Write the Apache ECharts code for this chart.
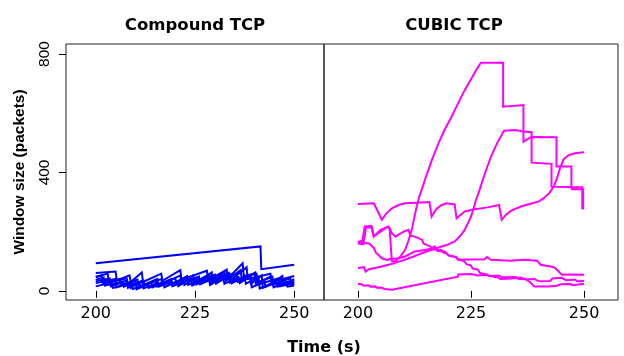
<!DOCTYPE html>
<html>
<head>
<meta charset="utf-8">
<script src="https://cdn.jsdelivr.net/npm/echarts@6/dist/echarts.min.js"></script>
<style>
  html, body { margin: 0; padding: 0; background: #fff; }
  #chart { width: 624px; height: 356px; }
</style>
</head>
<body>
<div id="chart"></div>
<script>
// Axis ticks shared by both panels
const timeTicks = [200, 225, 250];
const windowTicks = [0, 400, 800];
const timeRange = [192.5, 257.5];
const windowRange = [-31, 834];

// Compound TCP congestion windows: [time (s), window (packets)]
const compound1 = [[200,93],[241.5,150],[241.7,73],[250,88]];
const compound2 = [[200,48],[203,58],[203.3,28],[207.8,42],[208.1,18],[212,34],[212.3,20],[216.5,40],[216.8,22],[221.3,52],[221.6,28],[225.5,46],[225.8,26],[229.2,62],[229.5,32],[233.5,58],[233.8,34],[238,80],[238.3,40],[244,58],[244.3,30],[250,50]];
const compound3 = [[200,26],[204.9,40],[205.2,12],[208.5,28],[208.8,10],[211.6,34],[212,8],[215.5,26],[215.8,14],[219,30],[219.3,16],[225,44],[225.4,22],[228.5,38],[228.8,20],[232,52],[232.4,24],[236,46],[236.3,26],[240.2,62],[240.5,20],[246.5,44],[246.8,20],[250,30]];
const compound4 = [[200,37],[202,45],[202.3,18],[207.8,34],[208.1,10],[211,28],[211.3,14],[215,36],[215.3,15],[219,40],[219.3,22],[223,50],[223.3,20],[230,55],[230.4,28],[235.5,58],[235.8,30],[238.8,44],[239.1,24],[241.8,52],[242.1,10],[245.5,28],[245.8,14],[249.8,38],[250,38]];
const compound5 = [[200,15],[204,28],[204.3,10],[209,24],[209.3,6],[213,22],[213.3,10],[217,30],[217.3,12],[220.5,32],[220.8,16],[224,42],[224.3,18],[229,48],[229.3,24],[233.5,60],[233.8,28],[239,55],[239.3,12],[242.5,30],[242.8,14],[246,40],[246.3,15],[250,25]];
const compound6 = [[200,60],[205,65],[205.3,35],[208.5,52],[208.8,30],[211.6,62],[211.9,30],[216.5,58],[216.8,34],[221.3,70],[221.6,38],[228,68],[228.3,35],[233,72],[233.3,42],[237,93],[237.3,50],[240.5,58],[240.8,28],[244,48],[244.3,24],[247,50],[247.3,26],[250,36]];
const compound7 = [[200,32],[203.5,42],[203.8,15],[206.8,30],[207.1,14],[210,35],[210.3,5],[214,28],[214.3,12],[218,34],[218.3,20],[222,40],[222.3,20],[226,48],[226.3,22],[230,44],[230.3,24],[234,56],[234.3,26],[237.5,48],[237.8,24],[241,46],[241.3,8],[244.5,26],[244.8,12],[248,30],[248.3,14],[250,18]];
const compound8 = [[200,45],[201.5,52],[201.8,25],[206,40],[206.3,20],[210.5,38],[210.8,12],[215.5,40],[215.8,18],[220,44],[220.3,26],[224.5,52],[224.8,28],[228.5,56],[228.8,30],[232.5,62],[232.8,34],[236.5,70],[236.8,36],[240,60],[240.3,24],[244.5,48],[244.8,22],[249,42],[249.3,24],[250,25]];

// CUBIC TCP congestion windows: [time (s), window (packets)]
const cubic1 = [[200,293],[203.5,296],[203.9,290],[205.3,240],[206.3,262],[207.5,279],[209,290],[210.4,296],[213,298],[215.8,300],[216.3,251],[217.3,276],[218.5,290],[219.6,296],[221.4,292],[221.8,245],[222.8,258],[223.6,268],[225.8,276],[228.7,282],[231.2,290],[231.8,240],[232.8,258],[233.8,270],[236,285],[238.2,294],[240,302],[241.1,313],[242.3,330],[243.3,352],[244,380],[244.8,420],[245.5,445],[246.5,458],[248,465],[250,468]];
const cubic2 = [[200,165],[201,170],[201.5,218],[203,220],[203.5,185],[205,200],[206.5,216],[207,212],[207.5,100],[208.3,100],[209.5,118],[210.4,138],[211.2,170],[211.9,206],[212.5,250],[213,285],[213.6,320],[214.1,341],[214.8,375],[216.3,440],[217.8,498],[219.2,545],[220.7,588],[222.2,635],[223.6,678],[225,715],[226.3,750],[227.2,771],[232.1,771],[232.1,622],[232.4,628],[236.6,628],[236.6,504],[238.3,520],[243.9,519],[243.9,420],[247.2,420],[247.2,350],[249.6,350],[249.6,280],[250,280]];
const cubic3 = [[200,77],[201.3,80],[201.7,65],[202.4,73],[204.5,80],[206.8,88],[208.5,96],[210.4,105],[212.2,115],[214.1,127],[216.3,139],[218.5,150],[220,157],[221.4,167],[222.6,185],[223.6,206],[224.3,228],[225,251],[225.6,280],[226.1,307],[226.9,341],[227.6,375],[228.5,415],[229.4,453],[230.8,500],[232.3,541],[234.8,543],[236.6,538],[238.4,536],[238.4,433],[242.8,429],[242.8,352],[247.3,350],[247.3,343],[249.8,343],[249.8,278],[250,278]];
const cubic4 = [[200,163],[202.5,160],[203.5,145],[204,128],[204.5,122],[205.3,110],[206.4,104],[207.5,108],[209,110],[210.4,116],[211.5,125],[212.6,133],[214.8,138],[216,142],[217,150],[217.5,135],[219.2,133],[219.8,122],[220.7,116],[221.8,114],[222.1,105],[225,106],[228,107],[228.5,114],[229.4,105],[233.8,102],[236.7,105],[239.6,102],[240.4,88],[242,84],[243.3,80],[244,71],[245.1,54],[247,55],[250,54]];
const cubic5 = [[200,160],[201.2,158],[201.8,215],[203,214],[203.5,183],[205,206],[206.8,217],[207.5,195],[208.3,183],[209,190],[210.1,200],[211.2,206],[211.6,186],[212.3,184],[213.4,178],[214.2,172],[214.5,160],[215.2,155],[216,150],[216.4,140],[218.5,138],[218.8,130],[219.6,127],[220.2,118],[221.4,116],[222,108],[223.6,99],[224,90],[225,85],[225.4,75],[226.5,72],[227,60],[228.5,55],[229,50],[230.9,46],[231.5,40],[234,42],[236,45],[237,38],[239,40],[240,32],[242.5,33],[243,42],[245,44],[246,36],[248,38],[248.5,32],[250,33]];
const cubic6 = [[200,24],[200.8,22],[201.3,17],[202.3,19],[202.8,14],[203.8,15],[204.3,10],[205.3,11],[205.8,6],[207.5,4],[222.1,48],[222.2,55],[225,57],[226.5,52],[228,54],[229.5,50],[231,52],[232,46],[235,47],[235.5,40],[237,41],[238,30],[239,15],[242,15],[244,17],[244.7,22],[247,23],[247.5,19],[250,24]];

const compoundFlows = [compound1, compound2, compound3, compound4, compound5, compound6, compound7, compound8];
const cubicFlows = [cubic1, cubic2, cubic3, cubic4, cubic5, cubic6];

const BLUE = '#0000ff';
const MAGENTA = '#ff00ff';
const wideFont = 'DejaVu Sans';
const narrowFont = 'Liberation Sans';

function flowSeries(data, idx, color) {
  return {
    type: 'line',
    xAxisIndex: idx,
    yAxisIndex: idx,
    data: data,
    symbol: 'none',
    silent: true,
    animation: false,
    lineStyle: { color: color, width: 2, join: 'miter' }
  };
}

function timeAxis(gridIndex) {
  return {
    type: 'value', gridIndex: gridIndex,
    min: timeRange[0], max: timeRange[1],
    axisLine: { show: false },
    axisTick: { show: true, length: 7, customValues: timeTicks, lineStyle: { color: '#000', width: 1 } },
    axisLabel: { show: true, customValues: timeTicks, margin: 6, color: '#000', fontSize: 16, fontFamily: wideFont },
    splitLine: { show: false }
  };
}

const textStyle = (text, size, family, weight) => ({
  text: text, align: 'center', verticalAlign: 'middle',
  fontSize: size, fontWeight: weight, fontFamily: family, fill: '#000'
});

const titles = [
  { type: 'text', x: 195, y: 26, silent: true, style: textStyle('Compound TCP', 16.5, wideFont, 'bold') },
  { type: 'text', x: 454, y: 26, silent: true, style: textStyle('CUBIC TCP', 16.5, wideFont, 'bold') },
  { type: 'text', x: 324, y: 348, silent: true, style: textStyle('Time (s)', 16, wideFont, 'bold') },
  { type: 'text', x: 19.5, y: 172, rotation: Math.PI / 2, silent: true, style: textStyle('Window size (packets)', 15.5, narrowFont, 'bold') }
];

const chart = echarts.init(document.getElementById('chart'), null, { renderer: 'canvas' });
chart.setOption({
  backgroundColor: '#fff',
  animation: false,
  grid: [
    { left: 66, top: 44, width: 258, height: 256, show: true, borderColor: '#222', borderWidth: 1, backgroundColor: 'transparent' },
    { left: 324, top: 44, width: 294, height: 256, show: true, borderColor: '#222', borderWidth: 1, backgroundColor: 'transparent' }
  ],
  xAxis: [timeAxis(0), timeAxis(1)],
  yAxis: [
    {
      type: 'value', gridIndex: 0,
      min: windowRange[0], max: windowRange[1],
      axisLine: { show: false },
      axisTick: { show: true, length: 7, customValues: windowTicks, lineStyle: { color: '#000', width: 1 } },
      axisLabel: { show: false },
      splitLine: { show: false }
    },
    {
      type: 'value', gridIndex: 1,
      min: windowRange[0], max: windowRange[1],
      axisLine: { show: false }, axisTick: { show: false }, axisLabel: { show: false }, splitLine: { show: false }
    }
  ],
  series: [
    ...compoundFlows.map(d => flowSeries(d, 0, BLUE)),
    ...cubicFlows.map(d => flowSeries(d, 1, MAGENTA))
  ],
  graphic: titles
});

// Vertical tick labels on the window axis, placed at the axis' own tick positions
const windowLabels = windowTicks.map(v => {
  const p = chart.convertToPixel({ gridIndex: 0 }, [timeRange[0], v]);
  return { type: 'text', x: p[0] - 21, y: p[1], rotation: Math.PI / 2, silent: true,
           style: textStyle(String(v), 15.5, narrowFont, 'normal') };
});
chart.setOption({ graphic: titles.concat(windowLabels) });
</script>
</body>
</html>
